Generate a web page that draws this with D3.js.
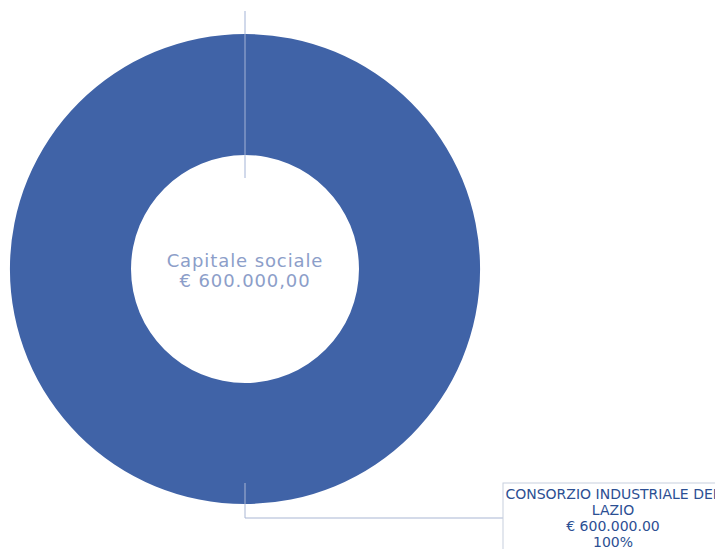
<!DOCTYPE html>
<html>
<head>
<meta charset="utf-8">
<script src="https://cdn.jsdelivr.net/npm/d3@7"></script>
<style>
  body { margin: 0; background: #fff; overflow: hidden; }
  svg { display: block; font-family: "DejaVu Sans", sans-serif; }
</style>
</head>
<body>
<div id="chart"></div>
<script>
// Shareholders of the company
const shareholders = ["CONSORZIO INDUSTRIALE DEL LAZIO"];
const labelLines = [["CONSORZIO INDUSTRIALE DEL", "LAZIO"]];
const amounts = [600000];
const amountLabels = ["€ 600.000.00"];
const percentLabels = ["100%"];
const centerLines = ["Capitale sociale", "€ 600.000,00"];

const width = 715, height = 549;
const cx = 245, cy = 269;
const outerR = 235, innerR = 114;

const svg = d3
  .select("#chart")
  .append("svg")
  .attr("width", width)
  .attr("height", height);

const g = svg.append("g").attr("transform", `translate(${cx}, ${cy})`);

const pie = d3.pie().sort(null).value((d) => d.value);
const arcs = pie(shareholders.map((name, i) => ({ name, value: amounts[i], i })));

const arc = d3.arc().innerRadius(innerR).outerRadius(outerR);

g.selectAll("path.slice")
  .data(arcs)
  .join("path")
  .attr("class", "slice")
  .attr("d", arc)
  .attr("fill", "#4063a7");

// thin line marking the slice start
arcs.forEach((a) => {
  const ang = a.startAngle;
  const r0 = innerR - 23, r1 = outerR + 23;
  g.append("line")
    .attr("x1", Math.sin(ang) * r0)
    .attr("y1", -Math.cos(ang) * r0)
    .attr("x2", Math.sin(ang) * r1)
    .attr("y2", -Math.cos(ang) * r1)
    .attr("stroke", "#a3b3d6")
    .attr("stroke-width", 1);
});

// center label
g.selectAll("text.center")
  .data(centerLines)
  .join("text")
  .attr("class", "center")
  .attr("text-anchor", "middle")
  .attr("x", 0)
  .attr("y", (d, i) => -2 + i * 20)
  .attr("font-size", "18px")
  .attr("letter-spacing", "0.9px")
  .attr("fill", "#8c9ec9")
  .text((d) => d);

// leader lines and label boxes
const boxX = 503 - cx;
arcs.forEach((a, k) => {
  const mid = (a.startAngle + a.endAngle) / 2;
  const r0 = outerR - 21;
  const x0 = Math.sin(mid) * r0, y0 = -Math.cos(mid) * r0;
  const yBend = y0 + 35;
  g.append("path")
    .attr("d", `M${x0},${y0}V${yBend}H${boxX}`)
    .attr("fill", "none")
    .attr("stroke", "#a9b6d3")
    .attr("stroke-width", 1);

  const boxTop = yBend - 35;
  g.append("rect")
    .attr("x", boxX)
    .attr("y", boxTop)
    .attr("width", 220)
    .attr("height", 80)
    .attr("fill", "#fff")
    .attr("stroke", "#c8cfde")
    .attr("stroke-width", 1);

  const lines = labelLines[k].concat([amountLabels[k], percentLabels[k]]);
  g.selectAll(`text.lab${k}`)
    .data(lines)
    .join("text")
    .attr("class", `lab${k}`)
    .attr("text-anchor", "middle")
    .attr("x", boxX + 110)
    .attr("y", (d, i) => boxTop + 15.5 + i * 16.3)
    .attr("font-size", "14px")
    .attr("fill", "#2c4f93")
    .text((d) => d);
});
</script>
</body>
</html>
